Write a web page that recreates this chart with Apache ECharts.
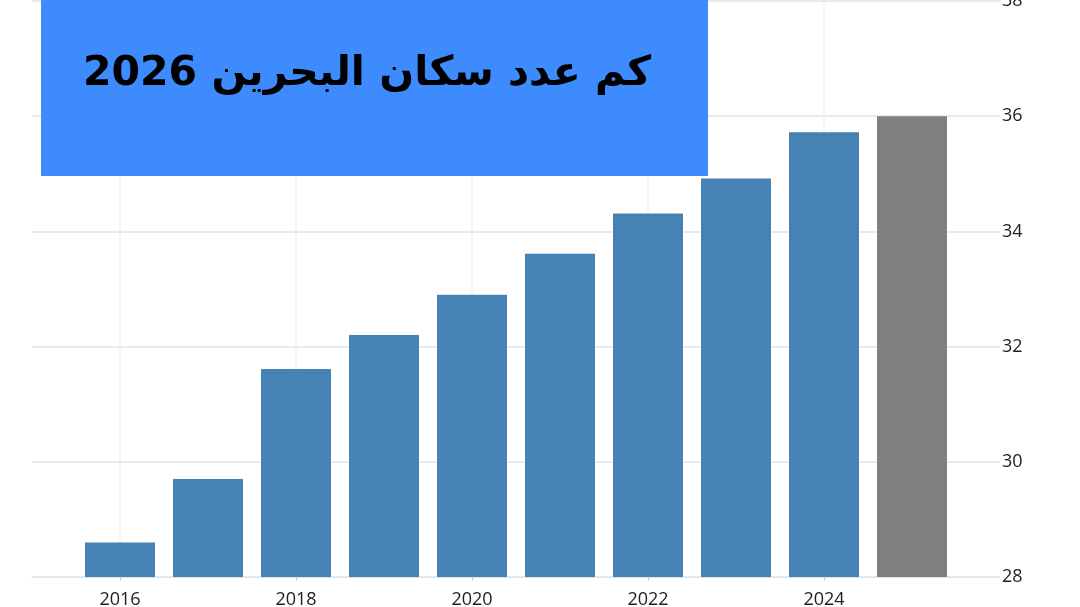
<!DOCTYPE html>
<html>
<head>
<meta charset="utf-8">
<script src="https://cdn.jsdelivr.net/npm/echarts@6/dist/echarts.min.js"></script>
<style>
html,body{margin:0;padding:0;background:#fff;}
#chart{width:1080px;height:607px;}
</style>
</head>
<body>
<div id="chart"></div>
<script>
const years = ['2016','2017','2018','2019','2020','2021','2022','2023','2024','2025'];
const population = [28.6, 29.7, 31.61, 32.2, 32.9, 33.61, 34.31, 34.92, 35.72, 36.0];
const forecastYears = ['2025'];
const yTicks = [28, 30, 32, 34, 36, 38];
const titleText = 'كم عدد سكان البحرين 2026';

const axisCats = ['2015'].concat(years, ['2026']);
const shownLabel = (i, v) => i > 0 && i < axisCats.length - 1 && (+v) % 2 === 0;

const barData = years.map((y, i) => ({
  value: population[i],
  itemStyle: { color: forecastYears.includes(y) ? '#808080' : '#4682b4' }
}));

const chart = echarts.init(document.getElementById('chart'));
chart.setOption({
  animation: false,
  grid: { left: 32, right: 80, top: 1, bottom: 30, containLabel: false, outerBoundsMode: 'none' },
  xAxis: {
    type: 'category',
    data: axisCats,
    boundaryGap: false,
    axisLine: { show: true, lineStyle: { color: '#e3e3e3' } },
    axisTick: { show: true, interval: shownLabel, length: 4, lineStyle: { color: '#cccccc' } },
    axisLabel: { interval: shownLabel, color: '#222', fontSize: 18, fontFamily: 'Open Sans', margin: 14 },
    splitLine: { show: true, interval: shownLabel, lineStyle: { color: '#e6e6e6', type: 'dotted', width: 1.5 } }
  },
  yAxis: {
    type: 'value',
    position: 'right',
    min: yTicks[0],
    max: yTicks[yTicks.length - 1],
    interval: 2,
    axisLine: { show: false },
    axisTick: { show: false },
    axisLabel: { color: '#222', fontSize: 18, fontFamily: 'Open Sans', margin: 2 },
    splitLine: { show: true, lineStyle: { color: '#e3e3e3', width: 1.5 } }
  },
  series: [{
    type: 'bar',
    data: [null].concat(barData, [null]),
    barWidth: 70
  }],
  graphic: [
    { type: 'rect', shape: { x: 41, y: 0, width: 667, height: 176 }, style: { fill: '#3d8bfd' }, z: 100 },
    { type: 'text', x: 367, y: 74, z: 101,
      style: { text: titleText, fill: '#000', font: 'bold 41px "DejaVu Sans"', textAlign: 'center', textVerticalAlign: 'middle' } }
  ]
});
</script>
</body>
</html>
